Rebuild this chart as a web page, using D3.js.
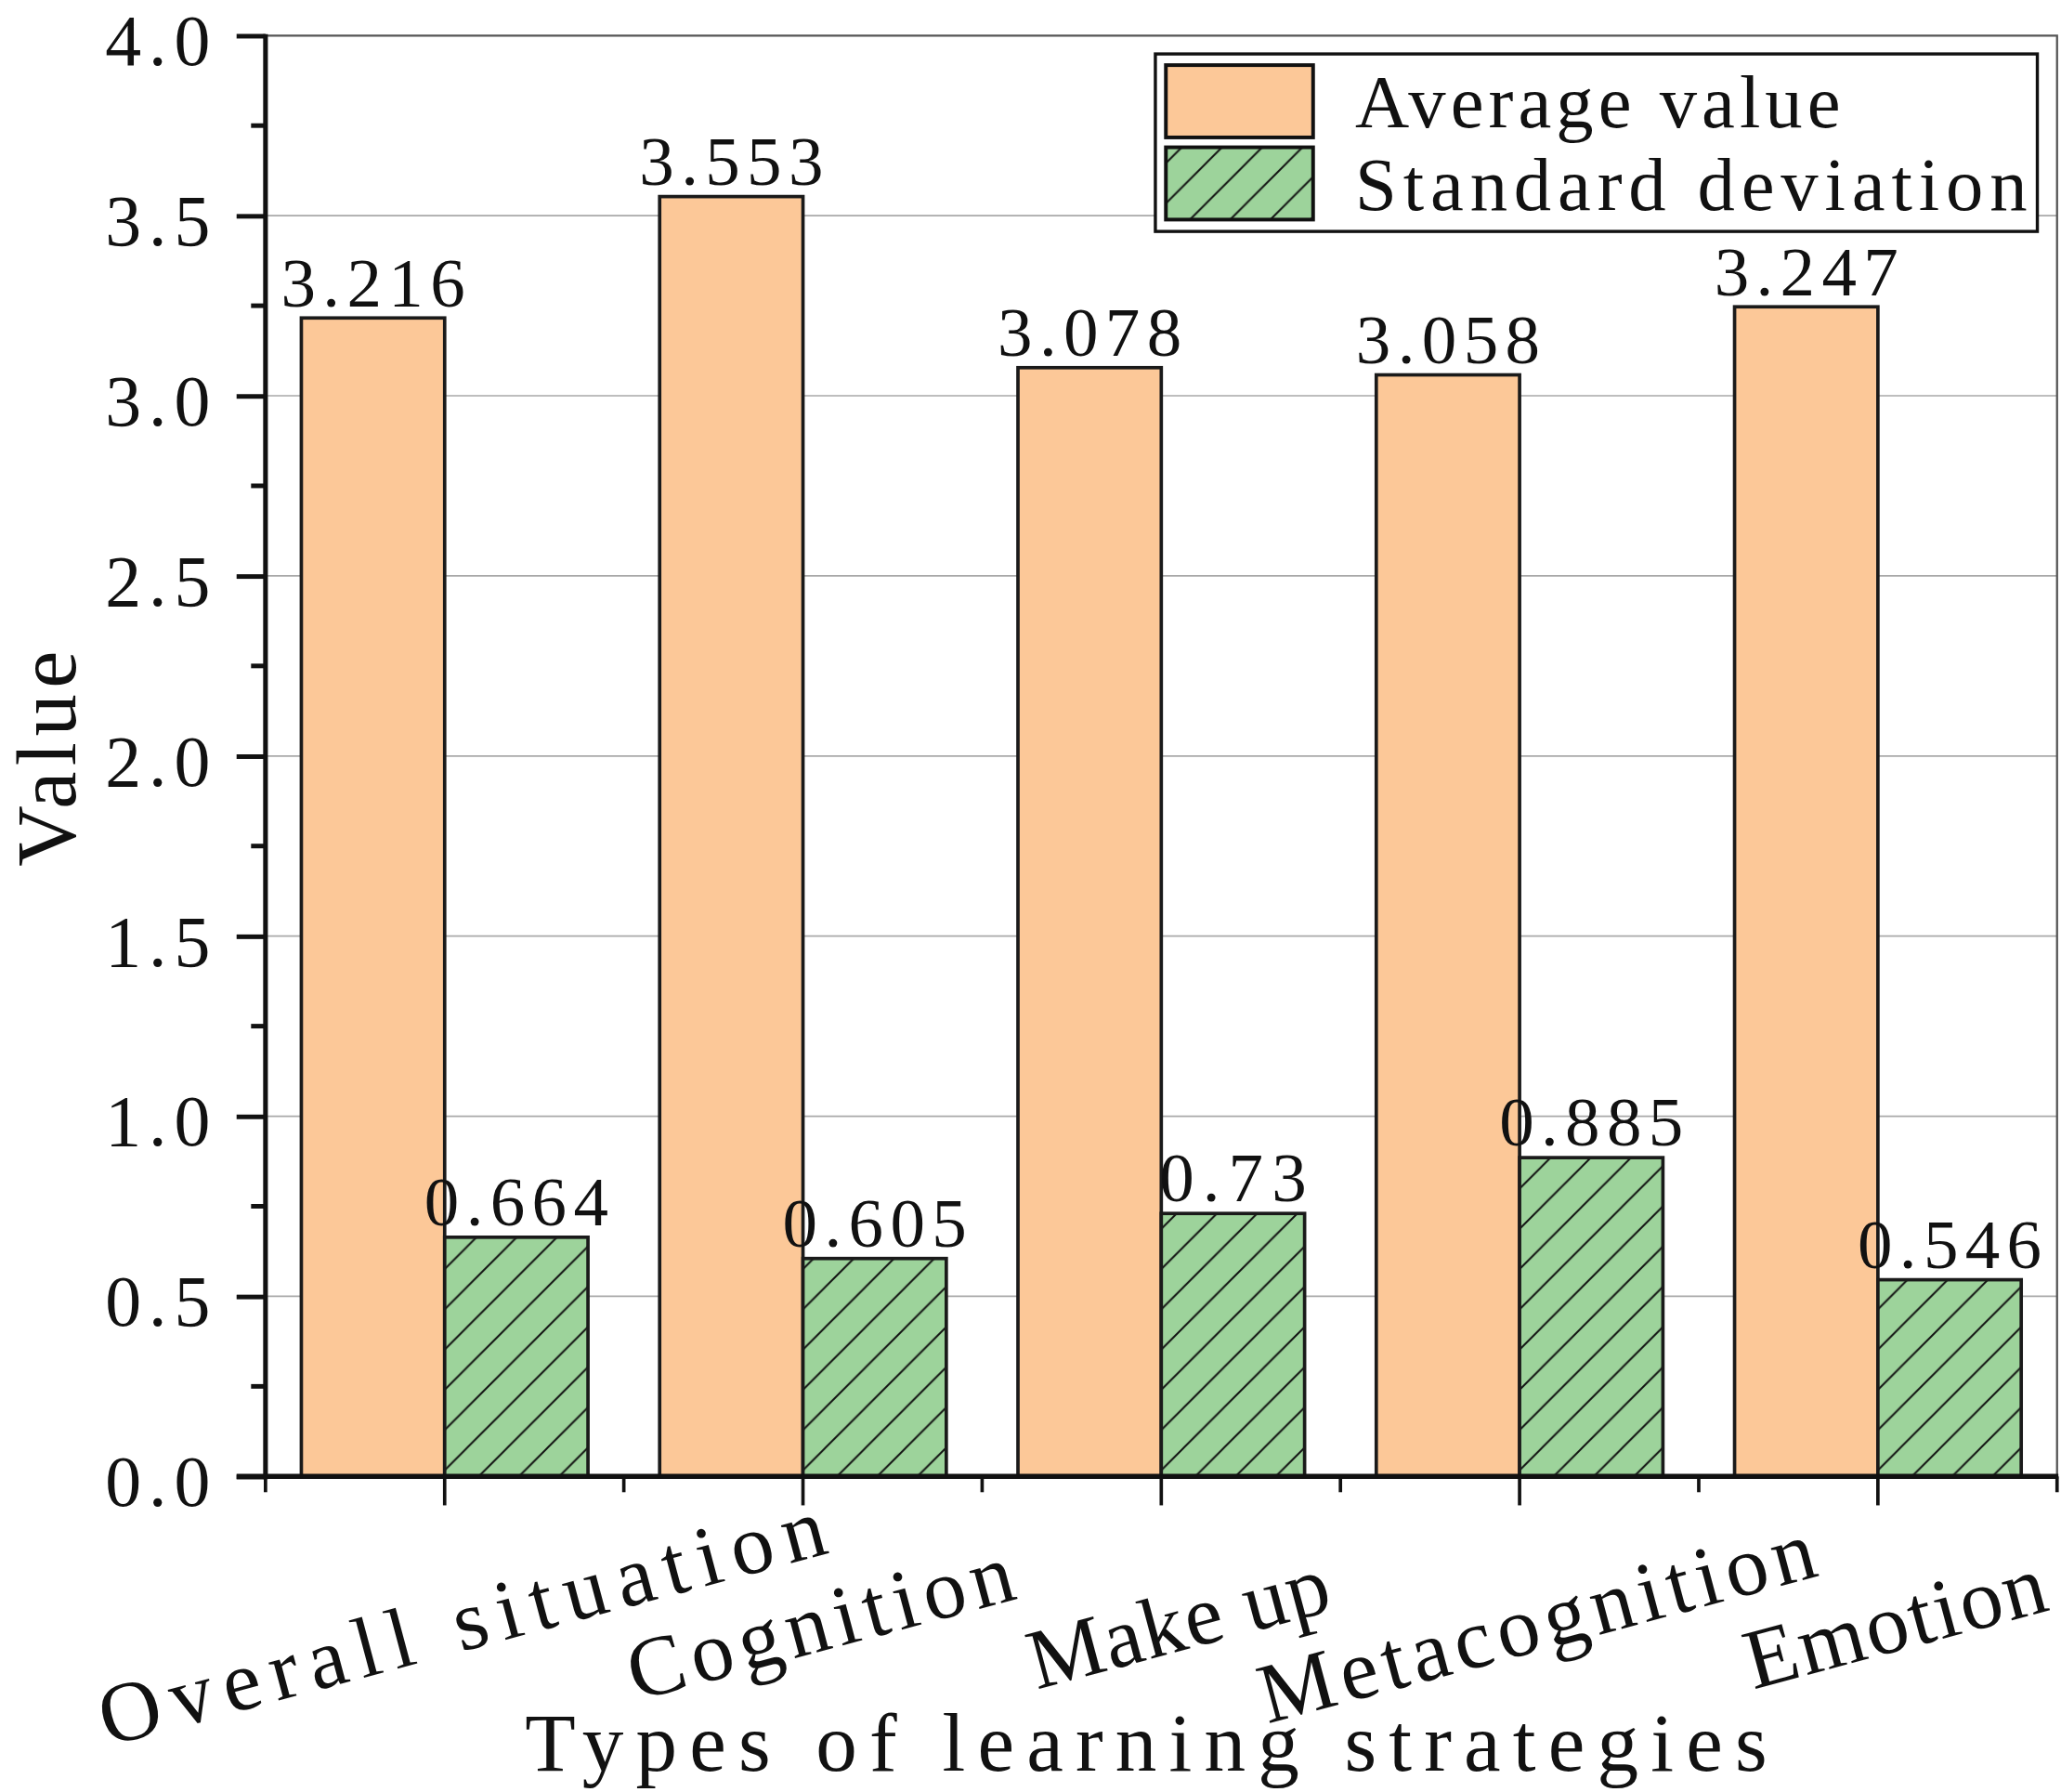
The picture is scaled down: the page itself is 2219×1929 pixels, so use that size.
<!DOCTYPE html>
<html>
<head>
<meta charset="utf-8">
<script src="https://cdn.jsdelivr.net/npm/d3@7.9.0/dist/d3.min.js"></script>
<style>
  html, body { margin: 0; padding: 0; background: #fff; }
  svg { display: block; }
  text { font-family: "Liberation Serif", "DejaVu Serif", serif; fill: #111; }
</style>
</head>
<body>
<div id="chart"></div>
<script>
// --- Data ---
const categories = ["Overall situation", "Cognition", "Make up", "Metacognition", "Emotion"];
const series = ["Average value", "Standard deviation"];
const averageValues = [3.216, 3.553, 3.078, 3.058, 3.247];
const stdValues = [0.664, 0.605, 0.73, 0.885, 0.546];
const yTicks = [0, 0.5, 1, 1.5, 2, 2.5, 3, 3.5, 4];
const yMinorTicks = [0.25, 0.75, 1.25, 1.75, 2.25, 2.75, 3.25, 3.75];

// --- Layout (drawn in a 1568x1363 box, scaled up to the window) ---
const VW = 1568, VH = 1363;
const L = 202, R = 1565, T = 27, B = 1123;

const ORANGE = "#FCC898";
const GREEN = "#9DD39B";
const CHAR_W = 28; // width of one character in the data labels

const x0 = d3.scaleBand().domain(categories).range([L, R]);
const x1 = d3.scaleBand().domain(series).range([0, x0.bandwidth()]).paddingOuter(0.25);
const y = d3.scaleLinear().domain([0, 4]).range([B, T]);

const svg = d3.select("#chart").append("svg")
  .attr("width", 2219)
  .attr("height", 1929)
  .attr("viewBox", `0 0 ${VW} ${VH}`);

// hatch pattern for the standard deviation bars
const hs = 30.6;
const pat = svg.append("defs").append("pattern")
  .attr("id", "hatch")
  .attr("patternUnits", "userSpaceOnUse")
  .attr("width", hs)
  .attr("height", hs);
pat.append("rect").attr("width", hs).attr("height", hs).attr("fill", GREEN);
pat.append("path")
  .attr("d", `M-2,2 l4,-4 M0,${hs} L${hs},0 M${hs - 2},${hs + 2} l4,-4`)
  .attr("stroke", "#111")
  .attr("stroke-width", 1.4);

// gridlines
svg.append("g")
  .selectAll("line")
  .data(yTicks.filter((d) => d > 0 && d < 4))
  .join("line")
  .attr("x1", L).attr("x2", R)
  .attr("y1", (d) => y(d)).attr("y2", (d) => y(d))
  .attr("stroke", "#a9a9a9")
  .attr("stroke-width", 1.2);

// frame (top and right)
svg.append("path")
  .attr("d", `M${L},${y(4)} H${R} V${B}`)
  .attr("fill", "none")
  .attr("stroke", "#555")
  .attr("stroke-width", 1.6);

// bars
const rows = categories.map((c, i) => ({ cat: c, vals: [averageValues[i], stdValues[i]] }));
const groups = svg.append("g")
  .selectAll("g")
  .data(rows)
  .join("g")
  .attr("transform", (d) => `translate(${x0(d.cat)},0)`);

groups.selectAll("rect")
  .data((d) => d.vals.map((v, j) => ({ key: series[j], v })))
  .join("rect")
  .attr("x", (d) => x1(d.key))
  .attr("y", (d) => y(d.v))
  .attr("width", x1.bandwidth())
  .attr("height", (d) => y(0) - y(d.v))
  .attr("fill", (d) => (d.key === series[0] ? ORANGE : "url(#hatch)"))
  .attr("stroke", "#1a1a1a")
  .attr("stroke-width", 2.6);

// value labels
groups.selectAll("text")
  .data((d) => d.vals.map((v, j) => ({ key: series[j], v })))
  .join("text")
  .attr("x", (d) => x1(d.key) + x1.bandwidth() / 2)
  .attr("y", (d) => y(d.v) - 9)
  .attr("text-anchor", "middle")
  .attr("font-size", 53)
  .attr("textLength", (d) => String(d.v).length * CHAR_W)
  .attr("lengthAdjust", "spacing")
  .text((d) => String(d.v));

// y axis
const yAxis = svg.append("g").attr("transform", `translate(${L},0)`);
yAxis.call(d3.axisLeft(y).tickValues(yTicks).tickSize(22).tickFormat(d3.format(".1f")));
yAxis.select(".domain").remove();
yAxis.selectAll(".tick line").attr("stroke", "#111").attr("stroke-width", 3.5);
yAxis.selectAll(".tick text")
  .attr("x", -42)
  .attr("font-size", 55)
  .attr("font-family", "Liberation Serif, serif")
  .attr("fill", "#111")
  .attr("dy", "0.4em")
  .attr("textLength", 80)
  .attr("lengthAdjust", "spacing");
yAxis.append("g")
  .selectAll("line")
  .data(yMinorTicks)
  .join("line")
  .attr("x1", -11).attr("x2", 0)
  .attr("y1", (d) => y(d)).attr("y2", (d) => y(d))
  .attr("stroke", "#111")
  .attr("stroke-width", 3.5);
yAxis.append("line")
  .attr("x1", 0).attr("x2", 0)
  .attr("y1", y(4) - 1).attr("y2", B + 2)
  .attr("stroke", "#111")
  .attr("stroke-width", 3.6);

// x axis
const xAxis = svg.append("g").attr("transform", `translate(0,${B})`);
xAxis.selectAll("line.major")
  .data(categories)
  .join("line")
  .attr("class", "major")
  .attr("x1", (d) => x0(d) + x0.bandwidth() / 2)
  .attr("x2", (d) => x0(d) + x0.bandwidth() / 2)
  .attr("y1", 0).attr("y2", 22)
  .attr("stroke", "#111")
  .attr("stroke-width", 2.6);
xAxis.selectAll("line.minor")
  .data([...categories.map((d) => x0(d)), R])
  .join("line")
  .attr("class", "minor")
  .attr("x1", (d) => d).attr("x2", (d) => d)
  .attr("y1", 0).attr("y2", 12)
  .attr("stroke", "#111")
  .attr("stroke-width", 2.6);
xAxis.append("line")
  .attr("x1", 180).attr("x2", R + 1)
  .attr("y1", 0).attr("y2", 0)
  .attr("stroke", "#111")
  .attr("stroke-width", 3.8);

// category labels, rotated
xAxis.selectAll("text")
  .data(categories)
  .join("text")
  .attr("transform", (d) => `translate(${x0(d) + x0.bandwidth() / 2 + 13},${111}) rotate(-15)`)
  .attr("text-anchor", "middle")
  .attr("dy", "0.33em")
  .attr("font-size", 65)
  .attr("textLength", (d) => d.length * 33.5)
  .attr("lengthAdjust", "spacing")
  .text((d) => d);

// axis titles
svg.append("text")
  .attr("x", 872).attr("y", 1347)
  .attr("text-anchor", "middle")
  .attr("font-size", 63)
  .attr("textLength", 945)
  .attr("lengthAdjust", "spacing")
  .text("Types of learning strategies");

svg.append("text")
  .attr("transform", "translate(57,577) rotate(-90)")
  .attr("text-anchor", "middle")
  .attr("font-size", 64)
  .attr("textLength", 164)
  .attr("lengthAdjust", "spacing")
  .text("Value");

// legend
const legend = svg.append("g");
legend.append("rect")
  .attr("x", 879).attr("y", 41)
  .attr("width", 671).attr("height", 135)
  .attr("fill", "#fff")
  .attr("stroke", "#111")
  .attr("stroke-width", 2.4);
const legendRows = legend.selectAll("g")
  .data(series)
  .join("g")
  .attr("transform", (d, i) => `translate(0,${i * 62.5})`);
legendRows.append("rect")
  .attr("x", 887).attr("y", 49.5)
  .attr("width", 112).attr("height", 55)
  .attr("fill", (d, i) => (i === 0 ? ORANGE : "url(#hatch)"))
  .attr("stroke", "#111")
  .attr("stroke-width", 2.8);
legendRows.append("text")
  .attr("x", 1031).attr("y", 97)
  .attr("font-size", 57)
  .attr("textLength", (d) => d.length * 28.4)
  .attr("lengthAdjust", "spacing")
  .text((d) => d);
</script>
</body>
</html>
